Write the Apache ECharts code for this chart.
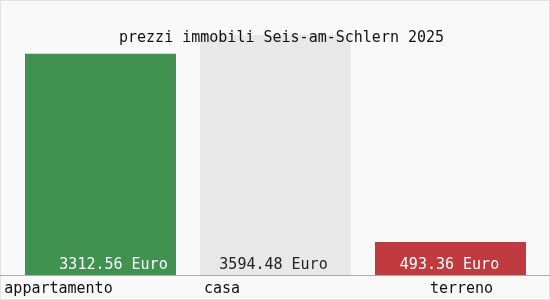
<!DOCTYPE html>
<html><head><meta charset="utf-8">
<script src="https://cdn.jsdelivr.net/npm/echarts@6/dist/echarts.min.js"></script>
<style>html,body{margin:0;padding:0;background:#fff}#c{width:550px;height:300px}</style>
</head><body><div id="c"></div>
<script>
const categories = ['appartamento', 'casa', 'terreno'];
const values = [3312.56, 3594.48, 493.36];
const unit = 'Euro';
const titleText = 'prezzi immobili Seis-am-Schlern 2025';

const barColors = ['#419150', '#e8e8e8', '#c03a40'];
const labelColors = ['#ffffff', '#222222', '#ffffff'];
const labelOffsets = [[13, 0], [-2, 0], [-1, 0]];
const catPads = [[0, 84, 0, 0], [0, 107, 0, 0], [0, 0, 0, 22]];
const FONT = 'DejaVu Sans Mono';

const chart = echarts.init(document.getElementById('c'));
const rich = {};
catPads.forEach((p, i) => { rich['c' + i] = { padding: p, fontFamily: FONT, fontSize: 15, color: '#111' }; });

chart.setOption({
  backgroundColor: '#f9f9f9',
  animation: false,
  title: {
    text: titleText, left: 114, top: 26,
    textStyle: { fontFamily: FONT, fontSize: 15, fontWeight: 'normal', color: '#111' }
  },
  grid: { left: 13, right: 12, top: 35, bottom: 25 },
  xAxis: {
    type: 'category', data: categories,
    axisLine: { show: false }, axisTick: { show: false },
    axisLabel: {
      margin: 7,
      formatter: (v, i) => '{c' + i + '|' + v + '}',
      rich: rich
    }
  },
  yAxis: { type: 'value', min: 0, max: 'dataMax', show: false, splitLine: { show: false } },
  series: [{
    type: 'bar', barWidth: 151,
    data: values.map((v, i) => ({
      value: v,
      itemStyle: { color: barColors[i] },
      label: { color: labelColors[i], offset: labelOffsets[i] }
    })),
    label: {
      show: true, position: 'insideBottom', distance: 2,
      fontFamily: FONT, fontSize: 15,
      formatter: p => p.value.toFixed(2) + ' ' + unit
    }
  }],
  graphic: [
    { type: 'rect', shape: { x: 0.5, y: 0.5, width: 549, height: 299 }, style: { fill: null, stroke: '#e2e2e2', lineWidth: 1 }, z: 100 },
    { type: 'line', shape: { x1: 0, y1: 275.5, x2: 550, y2: 275.5 }, style: { stroke: '#aaaaaa', lineWidth: 1 }, z: 100 }
  ]
});
</script></body></html>
